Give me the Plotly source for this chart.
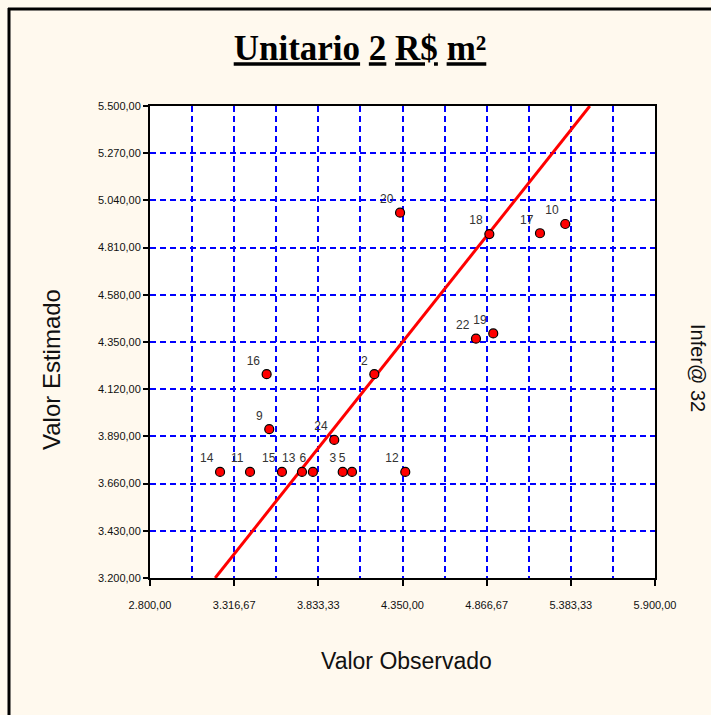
import plotly.graph_objects as go

# observed vs estimated unit values (R$/m2), one entry per sample
point_ids = ["14", "11", "15", "13", "6", "3", "5", "12", "9",
             "16", "24", "2", "20", "18", "17", "10", "22", "19"]
observed = [3230, 3414, 3610, 3733, 3800, 3983, 4040, 4367, 3532,
            3516, 3931, 4177, 4335, 4883, 5194, 5349, 4801, 4907]
estimated = [3717, 3717, 3717, 3717, 3717, 3717, 3717, 3717, 3925,
             4193, 3873, 4193, 4980, 4876, 4880, 4925, 4366, 4392]

# identity line ends
ref_line = [3200, 5500]

x_ticks = [2800, 3316.67, 3833.33, 4350, 4866.67, 5383.33, 5900]
x_labels = ["2.800,00", "3.316,67", "3.833,33", "4.350,00", "4.866,67", "5.383,33", "5.900,00"]
x_minor = [3058.33, 3575, 4091.67, 4608.33, 5125, 5641.67]
y_ticks = [3200, 3430, 3660, 3890, 4120, 4350, 4580, 4810, 5040, 5270, 5500]
y_labels = ["3.200,00", "3.430,00", "3.660,00", "3.890,00", "4.120,00", "4.350,00",
            "4.580,00", "4.810,00", "5.040,00", "5.270,00", "5.500,00"]

GRID = "#0000FF"
BG = "#FFF9EE"
tick_font = {"family": "Liberation Sans", "size": 11, "color": "#111111"}

W, H = 711, 715
L, T, R, B = 150, 106, 655, 578  # plot area in pixels


def px(x):
    return (x - L) / (R - L)


def py(y):
    return (B - y) / (B - T)


fig = go.Figure()
fig.add_trace(go.Scatter(x=ref_line, y=ref_line, mode="lines",
                         line={"color": "#FF0000", "width": 3}, hoverinfo="skip"))
fig.add_trace(go.Scatter(
    x=observed, y=estimated, mode="markers+text", text=point_ids,
    textposition="top left",
    textfont={"family": "Liberation Sans", "size": 12, "color": "#333333"},
    marker={"color": "#FF0000", "size": 9, "symbol": "circle",
            "line": {"color": "#000000", "width": 1.2}},
))

fig.update_xaxes(
    range=[2800, 5900], tickvals=x_ticks, ticktext=x_labels, tickfont=tick_font,
    ticks="outside", ticklen=6, tickcolor="black", tickwidth=2, ticklabelstandoff=10,
    showline=True, linecolor="black", linewidth=2, mirror=True,
    showgrid=True, gridcolor=GRID, griddash="6px,4px", gridwidth=1.5, zeroline=False,
    minor={"tickvals": x_minor, "showgrid": True, "gridcolor": GRID,
           "griddash": "6px,4px", "gridwidth": 1.5, "ticks": ""},
)
fig.update_yaxes(
    range=[3200, 5500], tickvals=y_ticks, ticktext=y_labels, tickfont=tick_font,
    ticks="outside", ticklen=5, tickcolor="black", tickwidth=2,
    showline=True, linecolor="black", linewidth=2, mirror=True,
    showgrid=True, gridcolor=GRID, griddash="6px,4px", gridwidth=1.5, zeroline=False,
)

axis_title_font = {"family": "Liberation Sans", "size": 23, "color": "#111111"}
fig.update_layout(
    width=W, height=H,
    margin={"l": L, "r": W - R, "t": T, "b": H - B, "autoexpand": False},
    paper_bgcolor=BG, plot_bgcolor="white",
    showlegend=False,
    title={"text": "<b><u>Unitario</u> <u>2</u> <u>R$</u> <u>m²</u></b>",
           "x": 360 / W, "xanchor": "center", "y": 1 - 48 / H, "yanchor": "middle",
           "font": {"family": "Liberation Serif", "size": 35, "color": "#000000"}},
    annotations=[
        {"text": "Valor Observado", "x": px(406), "y": py(661),
         "xref": "paper", "yref": "paper", "xanchor": "center", "yanchor": "middle",
         "showarrow": False, "font": axis_title_font},
        {"text": "Valor Estimado", "x": px(51), "y": py(370),
         "xref": "paper", "yref": "paper", "xanchor": "center", "yanchor": "middle",
         "showarrow": False, "textangle": -90,
         "font": {"family": "Liberation Sans", "size": 24, "color": "#111111"}},
        {"text": "Infer@ 32", "x": px(698), "y": py(368),
         "xref": "paper", "yref": "paper", "xanchor": "center", "yanchor": "middle",
         "showarrow": False, "textangle": 90,
         "font": {"family": "Liberation Sans", "size": 20, "color": "#111111"}},
    ],
    shapes=[
        {"type": "line", "xref": "paper", "yref": "paper",
         "x0": px(8), "x1": px(W + 10), "y0": py(9), "y1": py(9),
         "line": {"color": "black", "width": 3}},
        {"type": "line", "xref": "paper", "yref": "paper",
         "x0": px(9), "x1": px(9), "y0": py(8), "y1": py(H + 10),
         "line": {"color": "black", "width": 3}},
    ],
)

# drop the default body margin so the figure fills the window
fig.write_html("out.html", config={"displayModeBar": False},
               post_script="document.body.style.margin='0';"
                           "document.body.style.overflow='hidden';"
                           f"document.body.style.background='{BG}';")
